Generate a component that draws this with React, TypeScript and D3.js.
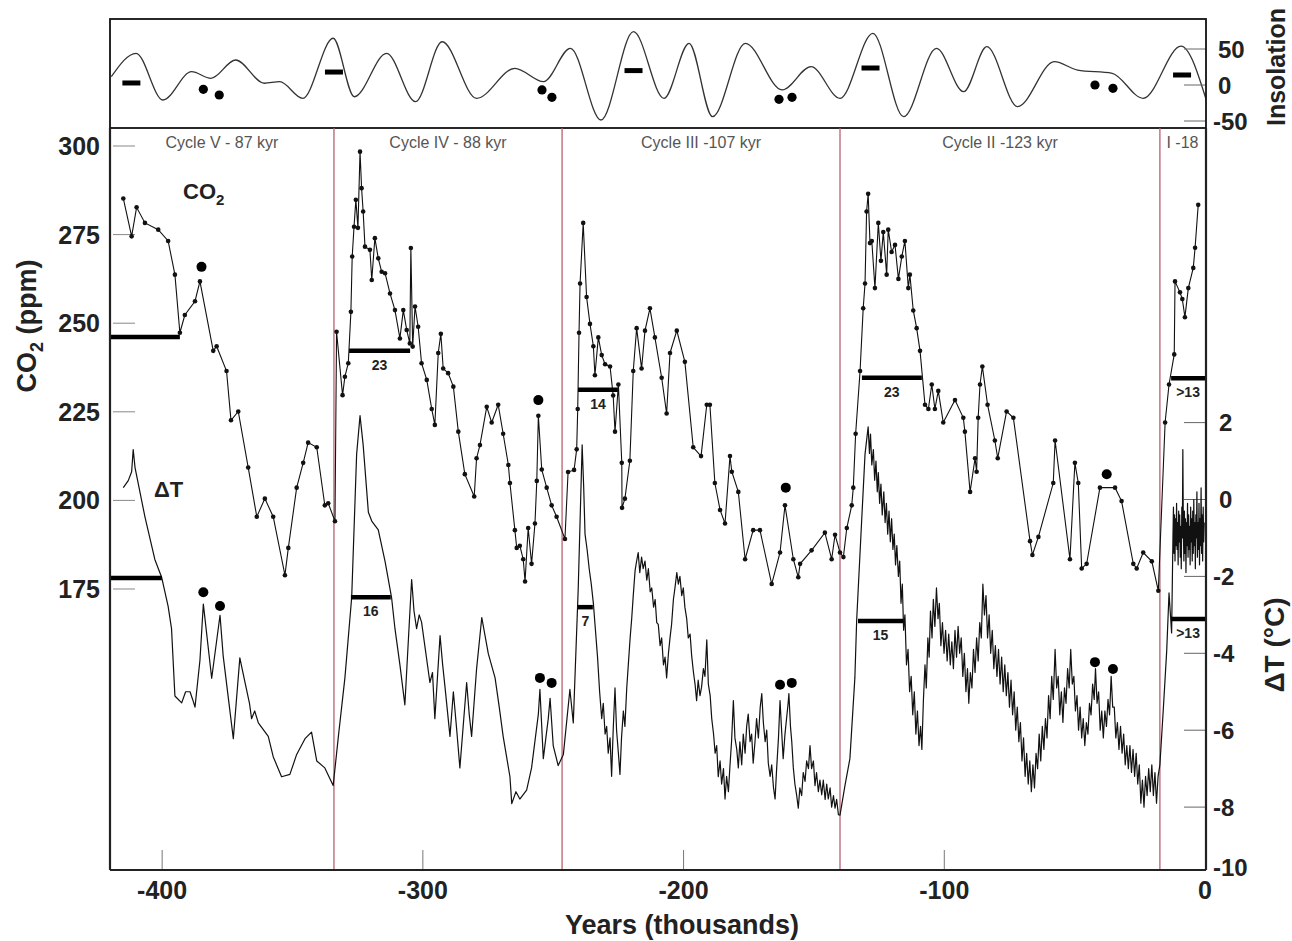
import React from 'react';
import * as d3 from 'd3';

// ---------- DATA ----------
// CO2 record [age kyr, ppm]
const CO2: [number, number][] = [
[-414.9,285.2],[-411.7,274.5],[-409.8,282.7],[-406.6,278.3],[-401.5,276.4],[-397.7,273.2],[-395.1,263.7],[-393.2,247.3],[-391.3,252.3],[-387.4,256.2],[-385.5,261.8],[-380.4,242.2],[-379.1,243.5],[-375.3,236.5],[-373.6,222.6],[-370.8,225.1],[-367.0,209.3],[-363.7,195.4],[-360.6,200.5],[-357.4,195.4],[-352.9,178.9],[-351.6,186.6],[-348.4,203.6],[-345.9,210.6],[-344.0,216.3],[-340.7,215.0],[-337.6,198.6],[-336.3,199.2],[-333.7,194.1],
[-333.1,247.6],[-330.8,229.7],[-329.9,234.9],[-328.6,238.7],[-327.6,253.2],[-327.1,268.8],[-326.4,277.2],[-325.7,284.8],[-324.9,276.9],[-324.1,298.4],[-323.5,288.1],[-322.9,281.5],[-322.2,271.6],[-320.3,270.7],[-319.6,262.2],[-318.4,274.0],[-317.1,268.3],[-315.8,264.5],[-314.5,264.1],[-312.6,258.4],[-310.7,253.7],[-308.8,245.7],[-307.5,253.7],[-306.2,248.1],[-305.0,244.3],[-304.6,271.2],[-303.9,243.4],[-303.0,254.7],[-301.8,249.0],[-300.5,238.7],[-298.5,234.0],[-296.6,225.8],[-295.4,221.3],[-294.1,241.6],[-293.1,247.0],[-292.2,237.2],[-290.3,235.9],[-288.3,232.1],[-286.4,219.4],[-283.9,207.4],[-280.3,201.1],[-279.4,211.9],[-278.1,215.6],[-275.5,226.4],[-273.6,222.0],[-271.1,227.0],[-269.2,218.8],[-267.2,210.0],[-266.6,204.9],[-264.7,191.6],[-264.0,186.6],[-262.8,187.2],[-261.5,183.4],[-260.8,177.1],[-259.6,192.2],[-258.3,182.1],[-257.0,193.5],[-256.3,205.5],[-255.7,223.9],[-254.4,208.7],[-252.5,203.6],[-250.6,198.6],[-248.7,195.4],[-245.5,189.1],
[-244.3,208.0],[-242.0,208.6],[-241.0,214.4],[-240.6,225.8],[-240.1,247.3],[-239.7,261.2],[-238.5,278.3],[-237.2,257.4],[-235.9,249.8],[-234.6,243.5],[-234.0,235.3],[-232.7,246.0],[-231.4,241.0],[-230.1,238.4],[-228.2,237.8],[-227.0,229.6],[-226.3,219.4],[-225.0,232.7],[-223.7,210.6],[-223.6,197.9],[-222.5,200.5],[-220.6,211.2],[-219.3,236.5],[-218.0,248.6],[-216.1,237.2],[-214.8,247.9],[-212.9,254.2],[-211.0,246.0],[-208.4,234.6],[-206.5,224.5],[-205.2,241.6],[-202.6,247.9],[-199.5,239.1],[-196.3,215.0],[-193.3,212.5],[-191.1,227.0],[-189.9,227.0],[-188.0,204.9],[-186.0,197.3],[-184.1,193.5],[-182.2,212.5],[-181.5,208.1],[-179.0,202.4],[-176.4,183.4],[-173.3,191.6],[-170.7,191.6],[-166.2,176.4],[-163.0,185.3],[-161.1,198.6],[-157.9,183.4],[-156.0,178.3],[-155.3,182.1],[-150.9,185.9],[-145.8,190.9],[-143.2,183.4],[-141.9,190.3],[-140.0,185.3],[-138.7,184.0],
[-137.4,192.2],[-135.5,198.6],[-134.9,203.6],[-134.0,218.8],[-132.3,236.5],[-131.1,254.2],[-130.4,261.2],[-129.8,281.5],[-129.2,286.5],[-128.5,272.6],[-127.8,273.2],[-126.6,259.9],[-125.3,278.3],[-124.3,267.6],[-123.4,275.7],[-122.1,263.7],[-121.5,276.4],[-120.2,270.1],[-118.9,272.1],[-117.6,262.5],[-116.3,268.8],[-115.1,273.2],[-113.8,259.9],[-113.2,263.7],[-111.9,253.6],[-110.6,248.6],[-109.3,242.2],[-107.4,227.0],[-106.1,225.8],[-104.8,232.7],[-103.6,225.8],[-102.3,230.9],[-100.4,222.0],[-95.9,228.3],[-92.7,223.3],[-92.1,219.4],[-90.1,202.4],[-88.2,211.9],[-87.6,208.1],[-87.0,223.3],[-86.3,232.7],[-85.4,237.8],[-83.4,227.0],[-80.6,216.9],[-79.5,211.9],[-76.1,225.1],[-73.5,223.3],[-67.1,188.5],[-66.2,184.6],[-63.9,189.7],[-58.2,204.9],[-57.5,216.9],[-51.8,183.4],[-49.9,210.6],[-48.6,204.9],[-47.3,180.8],[-45.4,182.1],[-40.3,203.6],[-34.5,203.6],[-32.0,199.8],[-27.5,182.1],[-26.2,180.8],[-23.7,185.3],[-20.4,182.8],[-17.9,174.5],
[-15.3,222.0],[-13.8,232.7],[-11.8,241.2],[-11.5,261.8],[-9.6,258.7],[-8.7,256.8],[-7.7,251.7],[-6.4,259.9],[-4.5,265.6],[-3.8,271.3],[-2.6,283.4]
];

// Temperature anomaly [age kyr, deg C]
const TEMP: [number, number][] = [
// cycle V
[-414.9,0.31],[-413.0,0.49],[-411.7,0.72],[-411.1,1.30],[-410.4,0.83],[-406.6,-0.45],[-402.8,-1.56],[-400.2,-2.02],[-397.7,-2.78],[-396.4,-3.36],[-395.1,-5.11],[-392.5,-5.29],[-391.0,-5.0],[-389.3,-5.00],[-388.3,-5.2],[-387.4,-5.40],[-385.5,-4.18],[-384.2,-2.72],[-381.0,-4.65],[-377.8,-3.01],[-376.6,-4.06],[-372.7,-6.22],[-370.2,-4.12],[-368.2,-4.76],[-366.5,-5.3],[-365.7,-5.70],[-364.5,-5.5],[-363.1,-5.81],[-359.3,-6.16],[-357.4,-6.69],[-354.2,-7.21],[-351.0,-7.15],[-348.4,-6.63],[-345.2,-6.22],[-342.7,-6.05],[-340.7,-6.80],[-337.6,-6.98],[-334.4,-7.44],
// cycle IV
[-332.4,-6.16],[-329.9,-4.64],[-327.3,-2.55],[-325.4,1.18],[-324.1,2.18],[-322.9,1.42],[-320.9,-0.33],[-319.6,-0.56],[-317.1,-0.79],[-314.5,-1.61],[-312.0,-2.55],[-310.7,-3.36],[-308.8,-4.30],[-306.9,-5.34],[-304.3,-2.08],[-303.4,-2.9],[-302.4,-3.36],[-301.4,-3.0],[-300.5,-3.19],[-297.3,-4.76],[-296.3,-4.5],[-295.4,-5.70],[-293.4,-3.54],[-292.4,-4.3],[-291.5,-4.88],[-289.6,-6.16],[-288.3,-5.00],[-287.0,-6.0],[-285.8,-6.98],[-283.2,-4.76],[-282.2,-5.6],[-281.3,-6.16],[-279.4,-4.41],[-277.4,-3.07],[-274.9,-4.01],[-272.3,-4.64],[-270.7,-5.4],[-269.2,-6.16],[-266.6,-7.21],[-265.9,-7.91],[-264.3,-7.6],[-262.8,-7.79],[-260.2,-7.56],[-258.3,-6.98],[-255.7,-5.58],[-255.1,-4.94],[-253.8,-6.74],[-251.9,-5.70],[-251.2,-5.17],[-250.0,-6.40],[-248.1,-6.92],[-246.1,-6.63],
// cycle III
[-243.6,-4.94],[-242.3,-5.81],[-240.4,-2.31],[-238.9,1.42],[-238.3,0.3],[-237.8,-0.9],[-237.0,-1.3],[-236.2,-1.8],[-235.4,-2.2],[-234.6,-2.7],[-233.8,-3.4],[-233.0,-4.1],[-232.2,-5.0],[-231.4,-5.7],[-230.8,-5.3],[-230.1,-6.1],[-229.5,-5.9],[-228.9,-6.6],[-228.2,-6.2],[-227.6,-7.2],[-227.0,-6.0],[-226.3,-4.9],[-225.7,-6.0],[-225.0,-6.6],[-224.4,-7.15],[-223.8,-6.2],[-223.1,-5.5],[-222.5,-5.9],[-221.8,-4.9],[-221.2,-4.3],[-220.5,-3.6],[-219.9,-3.1],[-219.3,-2.5],[-218.6,-1.85],[-218.0,-1.6],[-217.4,-1.38],[-216.8,-1.9],[-216.1,-1.5],[-215.5,-1.8],[-214.8,-1.6],[-214.1,-2.1],[-213.5,-1.8],[-212.8,-2.4],[-212.2,-2.3],[-211.5,-2.8],[-210.9,-2.6],[-210.3,-3.2],[-209.7,-3.25],[-209.0,-3.8],[-208.4,-3.6],[-207.7,-4.3],[-207.1,-4.1],[-206.5,-4.64],[-205.8,-4.0],[-205.2,-3.6],[-204.6,-3.25],[-203.9,-2.6],[-203.3,-2.3],[-202.6,-1.9],[-202.0,-2.2],[-201.4,-2.0],[-200.7,-2.5],[-200.1,-2.3],[-199.5,-2.8],[-198.8,-3.1],[-198.2,-3.6],[-197.5,-3.5],[-196.9,-4.06],[-196.2,-4.5],[-195.6,-4.8],[-195.0,-5.23],[-194.4,-4.7],[-193.7,-5.1],[-193.1,-4.88],[-192.4,-4.4],[-191.8,-4.6],[-191.1,-3.65],[-190.5,-4.8],[-189.8,-5.1],[-189.2,-5.7],[-188.5,-6.1],[-187.9,-6.6],[-187.3,-6.4],[-186.7,-7.21],[-186.0,-6.8],[-185.4,-7.4],[-184.7,-7.0],[-184.1,-7.79],[-183.5,-7.2],[-182.8,-7.6],[-182.2,-6.92],[-181.6,-6.3],[-180.9,-5.23],[-180.3,-6.2],[-179.6,-6.5],[-179.0,-6.98],[-178.4,-6.3],[-177.7,-6.9],[-177.1,-6.1],[-176.4,-6.6],[-175.8,-5.9],[-175.2,-5.58],[-174.5,-6.3],[-173.9,-6.1],[-173.3,-6.86],[-172.6,-6.3],[-172.0,-5.7],[-171.3,-6.2],[-170.6,-5.4],[-170.0,-5.05],[-169.4,-5.8],[-168.7,-6.3],[-168.1,-6.0],[-167.5,-6.86],[-166.8,-7.2],[-166.2,-6.9],[-165.5,-7.5],[-164.9,-7.79],[-164.3,-7.0],[-163.6,-6.2],[-163.0,-5.23],[-162.4,-6.0],[-161.8,-6.74],[-161.1,-6.1],[-160.5,-5.7],[-159.9,-5.3],[-159.6,-5.05],[-159.0,-5.9],[-158.5,-6.3],[-157.9,-6.98],[-157.3,-7.4],[-156.6,-7.7],[-156.0,-8.03],[-155.4,-7.5],[-154.7,-7.7],[-154.1,-7.1],[-153.4,-7.33],[-152.8,-6.8],[-152.1,-7.0],[-151.5,-6.40],[-150.9,-7.0],[-150.2,-6.8],[-149.6,-7.44],[-149.0,-7.1],[-148.3,-7.6],[-147.7,-7.3],[-147.0,-7.68],[-146.4,-7.3],[-145.7,-7.8],[-145.1,-7.4],[-144.5,-7.79],[-143.8,-7.5],[-143.2,-8.0],[-142.5,-7.7],[-141.9,-8.03],[-141.3,-7.8],[-140.6,-8.2],[-140.0,-8.21],
// cycle II
[-138.1,-7.44],[-136.2,-6.74],[-134.3,-4.64],[-133.6,-3.13],[-131.7,-0.56],[-130.4,1.18],[-129.2,1.89],[-128.7,1.2],[-128.3,1.7],[-127.8,0.9],[-127.2,1.3],[-126.7,0.5],[-126.2,1.0],[-125.7,0.2],[-125.3,0.7],[-124.8,-0.1],[-124.3,0.4],[-123.8,-0.4],[-123.2,0.2],[-122.7,-0.6],[-122.2,-0.1],[-121.7,-0.9],[-121.2,-0.3],[-120.7,-1.1],[-120.2,-0.5],[-119.7,-1.3],[-119.2,-0.9],[-118.7,-1.7],[-118.2,-1.2],[-117.6,-2.0],[-117.1,-1.6],[-116.6,-2.7],[-116.1,-2.2],[-115.6,-3.4],[-115.1,-3.0],[-114.5,-4.3],[-113.9,-3.9],[-113.3,-5.0],[-112.7,-4.6],[-112.1,-5.6],[-111.5,-5.0],[-110.9,-6.1],[-110.3,-5.5],[-109.7,-6.4],[-109.1,-5.9],[-108.6,-6.5],[-108.0,-5.2],[-107.4,-4.3],[-106.9,-4.9],[-106.3,-3.6],[-105.8,-4.1],[-105.3,-2.9],[-104.7,-3.6],[-104.2,-2.6],[-103.6,-3.3],[-103.0,-2.3],[-102.4,-3.1],[-101.9,-2.7],[-101.3,-3.8],[-100.7,-3.2],[-100.1,-4.0],[-99.5,-3.4],[-98.9,-4.2],[-98.3,-3.5],[-97.7,-4.3],[-97.1,-3.7],[-96.5,-4.4],[-95.9,-3.4],[-95.3,-4.1],[-94.7,-3.3],[-94.1,-4.0],[-93.5,-3.6],[-92.9,-4.6],[-92.3,-4.0],[-91.7,-5.0],[-91.1,-4.4],[-90.6,-5.3],[-90.0,-4.5],[-89.4,-4.9],[-88.8,-3.9],[-88.2,-4.5],[-87.6,-3.6],[-87.0,-4.2],[-86.4,-3.2],[-85.8,-3.6],[-85.2,-2.2],[-84.6,-3.0],[-84.0,-2.5],[-83.4,-3.6],[-82.8,-3.0],[-82.2,-4.0],[-81.6,-3.4],[-81.0,-4.4],[-80.4,-3.8],[-79.8,-4.6],[-79.2,-3.9],[-78.6,-4.8],[-78.0,-4.1],[-77.4,-5.0],[-76.8,-4.3],[-76.2,-5.1],[-75.6,-4.5],[-75.0,-5.4],[-74.4,-4.7],[-73.8,-5.6],[-73.2,-5.0],[-72.6,-6.0],[-72.0,-5.4],[-71.4,-6.3],[-70.8,-5.8],[-70.2,-6.8],[-69.6,-6.2],[-69.0,-7.2],[-68.4,-6.6],[-67.8,-7.4],[-67.2,-6.8],[-66.6,-7.6],[-66.0,-6.9],[-65.4,-7.5],[-64.8,-6.6],[-64.2,-7.0],[-63.6,-6.1],[-63.0,-6.8],[-62.4,-5.9],[-61.8,-6.5],[-61.2,-5.7],[-60.6,-6.2],[-60.0,-5.1],[-59.4,-5.7],[-58.8,-4.6],[-58.2,-5.2],[-57.5,-3.9],[-56.9,-4.9],[-56.3,-4.6],[-55.7,-5.6],[-55.1,-5.0],[-54.5,-5.8],[-53.9,-4.9],[-53.3,-5.3],[-52.7,-4.4],[-52.1,-4.9],[-51.5,-3.9],[-50.9,-4.8],[-50.3,-4.6],[-49.7,-5.5],[-49.1,-5.1],[-48.5,-6.0],[-47.9,-5.4],[-47.3,-6.2],[-46.7,-5.7],[-46.1,-6.4],[-45.5,-5.8],[-44.9,-6.1],[-44.3,-5.3],[-43.7,-5.6],[-43.1,-4.8],[-42.5,-5.2],[-42.0,-4.4],[-41.4,-5.3],[-40.8,-5.0],[-40.2,-6.0],[-39.6,-5.5],[-39.0,-6.2],[-38.4,-5.5],[-37.8,-5.9],[-37.2,-5.2],[-36.6,-5.6],[-36.0,-4.6],[-35.4,-5.4],[-34.8,-5.4],[-34.2,-6.2],[-33.6,-5.8],[-33.0,-6.5],[-32.4,-5.9],[-31.8,-6.6],[-31.2,-6.1],[-30.6,-6.9],[-30.0,-6.4],[-29.4,-7.0],[-28.8,-6.4],[-28.2,-7.1],[-27.6,-6.5],[-27.0,-7.2],[-26.4,-6.6],[-25.8,-7.4],[-25.2,-6.9],[-24.6,-7.9],[-24.0,-7.3],[-23.4,-8.0],[-22.8,-7.2],[-22.2,-7.7],[-21.6,-7.0],[-21.0,-7.6],[-20.4,-6.9],[-19.8,-7.7],[-19.2,-7.1],[-18.6,-7.9],[-18.0,-7.2],[-17.3,-6.9],
// cycle I
[-16.0,-5.46],[-14.7,-3.95],[-13.8,-2.43],[-12.8,-3.47],
[-12.3,-1.0],[-12.1,-0.2],[-11.9,-1.4],[-11.7,-0.4],[-11.5,-1.6],[-11.3,-0.5],[-11.1,-1.2],[-10.9,-0.1],[-10.7,-1.3],[-10.5,-0.6],[-10.3,-1.7],[-10.1,-0.3],[-9.9,-1.1],[-9.7,-0.4],[-9.5,-1.5],[-9.3,-0.7],[-9.1,-1.8],[-8.9,-0.2],[-8.7,-1.0],[-8.5,1.3],[-8.3,-0.8],[-8.1,-1.6],[-7.9,-0.3],[-7.7,-1.4],[-7.5,-0.5],[-7.3,-1.9],[-7.1,-0.6],[-6.9,-1.2],[-6.7,-0.1],[-6.5,-1.5],[-6.3,-0.4],[-6.1,-1.3],[-5.9,-0.7],[-5.7,-1.7],[-5.5,-0.2],[-5.3,-1.1],[-5.1,-0.5],[-4.9,-1.6],[-4.7,-0.3],[-4.5,-1.4],[-4.3,0.0],[-4.1,-1.2],[-3.9,-0.6],[-3.7,-1.8],[-3.5,-0.4],[-3.3,-1.0],[-3.1,0.2],[-2.9,-1.5],[-2.7,-0.6],[-2.5,-1.3],[-2.3,-0.1],[-2.1,-1.7],[-1.9,-0.5],[-1.7,-1.2],[-1.5,0.3],[-1.3,-1.4],[-1.1,-0.4],[-0.9,-1.6],[-0.7,-0.2],[-0.5,-1.1],[-0.3,-0.6]
];

// Summer insolation anomaly [age kyr, W/m2]
const INSOLATION: [number, number][] = [
[-419.5,11.5],[-410.0,44.0],[-399.7,-20.8],[-388.7,18.5],[-381.3,9.3],[-371.8,34.7],[-360.8,2.4],[-354.9,4.6],[-346.1,-18.5],[-334.4,64.9],[-326.3,-16.3],[-313.9,44.0],[-302.8,-23.2],[-292.6,60.1],[-279.4,-18.5],[-264.7,23.2],[-253.7,4.6],[-243.4,51.0],[-231.7,-48.6],[-219.2,74.0],[-207.5,-18.5],[-197.9,57.9],[-188.9,-44.0],[-176.3,57.9],[-162.2,-6.9],[-151.1,25.4],[-140.0,-18.5],[-127.4,71.8],[-115.6,-44.0],[-103.0,51.0],[-92.6,-9.3],[-83.7,53.2],[-71.9,-30.1],[-57.8,32.4],[-48.9,20.8],[-35.6,16.3],[-23.7,-18.5],[-9.2,54.0],[0.6,-22.0]
];

const CYCLE_BOUNDS = [-334.1, -246.6, -140.0, -17.3];
const CYCLE_LABELS = ['Cycle V - 87 kyr', 'Cycle IV - 88 kyr', 'Cycle III -107 kyr', 'Cycle II -123 kyr', 'I -18'];

// Duration bars: [start, end, value, label]
const CO2_BARS: [number, number, number, string][] = [
  [-420, -393.2, 246.1, ''], [-328.3, -304.9, 242.2, '23'], [-240.5, -225.2, 231.2, '14'], [-131.6, -108.6, 234.6, '23'], [-13.0, 0, 234.5, '>13']
];
const TEMP_BARS: [number, number, number, string][] = [
  [-420, -400.1, -2.04, ''], [-327.6, -312.3, -2.54, '16'], [-240.5, -234.8, -2.80, '7'], [-133.1, -115.8, -3.16, '15'], [-13.0, 0, -3.11, '>13']
];
const INS_BARS: [number, number][] = [[-411.8, 2.8], [-334.1, 18], [-219.2, 20], [-128.3, 23.6], [-8.8, 13.9]];
const INS_DOTS: [number, number][] = [[-384.2, -6], [-378.1, -13.9], [-254.3, -6.9], [-250.5, -17.1], [-163.4, -19.9], [-158.4, -17.1], [-42.2, 0], [-35.3, -4.6]];
const CO2_MARKERS: [number, number][] = [[-384.9, 265.9], [-255.7, 228.3], [-160.8, 203.6], [-37.7, 207.4]];
const TEMP_MARKERS: [number, number][] = [[-384.2, -2.41], [-377.8, -2.77], [-255.1, -4.64], [-250.6, -4.77], [-163.0, -4.82], [-158.5, -4.77], [-42.2, -4.23], [-35.3, -4.41]];

const X_TICKS = [-400, -300, -200, -100, 0];
const CO2_TICKS = [175, 200, 225, 250, 275, 300];
const TEMP_TICKS = [2, 0, -2, -4, -6, -8];
const INS_TICKS = [50, 0, -50];

const FONT = "'Liberation Sans', Arial, Helvetica, sans-serif";

export default function App() {
  const L = 110, R = 1206, T = 128, B = 870;
  const x = d3.scaleLinear().domain([-420, 0]).range([110, 1205]);
  const yC = d3.scaleLinear().domain([175, 300]).range([589, 146]);
  const yT = d3.scaleLinear().domain([-8, 2]).range([807.1, 422.6]);
  const yI = d3.scaleLinear().domain([-50, 50]).range([121, 49]);

  const co2Line = d3.line<[number, number]>().x(d => x(d[0])).y(d => yC(d[1]));
  const tLine = d3.line<[number, number]>().x(d => x(d[0])).y(d => yT(d[1]));
  const insLine = d3.line<[number, number]>().x(d => x(d[0])).y(d => yI(d[1])).curve(d3.curveMonotoneX);

  const bounds = [-420, ...CYCLE_BOUNDS, 0];
  const red = '#b8626e';
  const txt = '#222';

  return (
    <svg width={1292} height={941} style={{ position: 'absolute', left: 0, top: 0, background: '#fff' }} fontFamily={FONT}>
      <defs>
        <clipPath id="insClip"><rect x={L} y={19} width={R - L} height={T - 19} /></clipPath>
        <clipPath id="mainClip"><rect x={L} y={T} width={R - L} height={B - T} /></clipPath>
      </defs>
      <rect x={0} y={0} width={1292} height={941} fill="#fff" />

      {/* Insolation panel */}
      <g clipPath="url(#insClip)">
        <path d={insLine(INSOLATION) || ''} fill="none" stroke="#333" strokeWidth={1.3} />
      </g>
      {INS_TICKS.map(v => (
        <line key={'it' + v} x1={R - 22} x2={R} y1={yI(v)} y2={yI(v)} stroke="#666" strokeWidth={1} />
      ))}
      {INS_TICKS.map(v => (
        <text key={'il' + v} x={v < 0 ? R + 7 : R + 12} y={yI(v)} dy="0.36em" fontSize={24} fontWeight="bold" fill={txt}>{v}</text>
      ))}
      <text transform={`translate(1285,67) rotate(-90)`} textAnchor="middle" fontSize={25} fontWeight="bold" fill={txt}>Insolation</text>
      {INS_BARS.map((d, i) => (
        <line key={'ib' + i} x1={x(d[0]) - 9} x2={x(d[0]) + 9} y1={yI(d[1])} y2={yI(d[1])} stroke="#000" strokeWidth={5} />
      ))}
      {INS_DOTS.map((d, i) => (
        <circle key={'id' + i} cx={x(d[0])} cy={yI(d[1])} r={4.6} fill="#000" />
      ))}
      <rect x={L} y={19} width={R - L} height={T - 19} fill="none" stroke="#111" strokeWidth={1.8} />

      {/* Cycle boundaries */}
      {CYCLE_BOUNDS.map((b, i) => (
        <line key={'cb' + i} x1={x(b)} x2={x(b)} y1={T} y2={B} stroke={red} strokeWidth={1.3} />
      ))}
      {CYCLE_LABELS.map((lab, i) => (
        <text key={'cl' + i} x={(x(bounds[i]) + x(bounds[i + 1])) / 2} y={148} textAnchor="middle" fontSize={16} fill="#555">{lab}</text>
      ))}

      {/* Left CO2 axis */}
      {CO2_TICKS.map(v => (
        <line key={'ct' + v} x1={L + 3} x2={L + 25} y1={yC(v)} y2={yC(v)} stroke="#888" strokeWidth={1} />
      ))}
      {CO2_TICKS.map(v => (
        <text key={'cl2' + v} x={100} y={yC(v)} dy="0.36em" textAnchor="end" fontSize={25} fontWeight="bold" fill={txt}>{v}</text>
      ))}
      <text transform={`translate(36,326) rotate(-90)`} textAnchor="middle" fontSize={27} fontWeight="bold" fill={txt}>
        CO<tspan fontSize={18} dy={7}>2</tspan><tspan dy={-7}> (ppm)</tspan>
      </text>

      {/* Right temperature axis */}
      {TEMP_TICKS.map(v => (
        <line key={'tt' + v} x1={R - 22} x2={R} y1={yT(v)} y2={yT(v)} stroke="#666" strokeWidth={1} />
      ))}
      {TEMP_TICKS.map(v => (
        <text key={'tl' + v} x={v < 0 ? R + 7 : R + 13} y={yT(v)} dy="0.36em" fontSize={24} fontWeight="bold" fill={txt}>{v}</text>
      ))}
      <text x={R + 7} y={B} dy="0.25em" fontSize={24} fontWeight="bold" fill={txt}>-10</text>
      <text transform={`translate(1284,645) rotate(-90)`} textAnchor="middle" fontSize={28} fontWeight="bold" fill={txt}>ΔT (°C)</text>

      {/* Bottom axis */}
      {X_TICKS.filter(v => v !== 0).map(v => (
        <line key={'xt' + v} x1={x(v)} x2={x(v)} y1={B - 20} y2={B} stroke="#777" strokeWidth={1} />
      ))}
      {X_TICKS.map(v => (
        <text key={'xl' + v} x={x(v)} y={899} textAnchor="middle" fontSize={25} fontWeight="bold" fill={txt}>{v}</text>
      ))}
      <text x={682} y={934} textAnchor="middle" fontSize={27} fontWeight="bold" fill={txt}>Years (thousands)</text>

      {/* Data */}
      <g clipPath="url(#mainClip)">
        <path d={tLine(TEMP) || ''} fill="none" stroke="#111" strokeWidth={1.2} strokeLinejoin="round" />
        <path d={co2Line(CO2) || ''} fill="none" stroke="#111" strokeWidth={1.1} />
        {CO2.map((d, i) => (
          <circle key={'cd' + i} cx={x(d[0])} cy={yC(d[1])} r={2.3} fill="#111" />
        ))}
        {CO2_BARS.map((b, i) => (
          <line key={'cbr' + i} x1={x(b[0])} x2={x(b[1])} y1={yC(b[2])} y2={yC(b[2])} stroke="#000" strokeWidth={4.5} />
        ))}
        {TEMP_BARS.map((b, i) => (
          <line key={'tbr' + i} x1={x(b[0])} x2={x(b[1])} y1={yT(b[2])} y2={yT(b[2])} stroke="#000" strokeWidth={4.5} />
        ))}
      </g>
      {CO2_BARS.map((b, i) => b[3] ? (
        <text key={'cbl' + i} x={(x(b[0]) + x(b[1])) / 2} y={yC(b[2]) + 19} textAnchor="middle" fontSize={14} fontWeight="bold" fill={txt}>{b[3]}</text>
      ) : null)}
      {TEMP_BARS.map((b, i) => b[3] ? (
        <text key={'tbl' + i} x={(x(b[0]) + x(b[1])) / 2} y={yT(b[2]) + 19} textAnchor="middle" fontSize={14} fontWeight="bold" fill={txt}>{b[3]}</text>
      ) : null)}
      {CO2_MARKERS.map((d, i) => (
        <circle key={'cm' + i} cx={x(d[0])} cy={yC(d[1])} r={5} fill="#000" />
      ))}
      {TEMP_MARKERS.map((d, i) => (
        <circle key={'tm' + i} cx={x(d[0])} cy={yT(d[1])} r={5} fill="#000" />
      ))}

      <text x={183} y={199} fontSize={22} fontWeight="bold" fill={txt}>CO<tspan fontSize={15} dy={6}>2</tspan></text>
      <text x={154} y={497} fontSize={22} fontWeight="bold" fill={txt}>ΔT</text>

      {/* Frame */}
      <line x1={L} x2={L} y1={T} y2={B} stroke="#222" strokeWidth={2.2} />
      <line x1={R} x2={R} y1={T} y2={B} stroke="#222" strokeWidth={2.2} />
      <line x1={L} x2={R} y1={B} y2={B} stroke="#222" strokeWidth={2.2} />
    </svg>
  );
}
